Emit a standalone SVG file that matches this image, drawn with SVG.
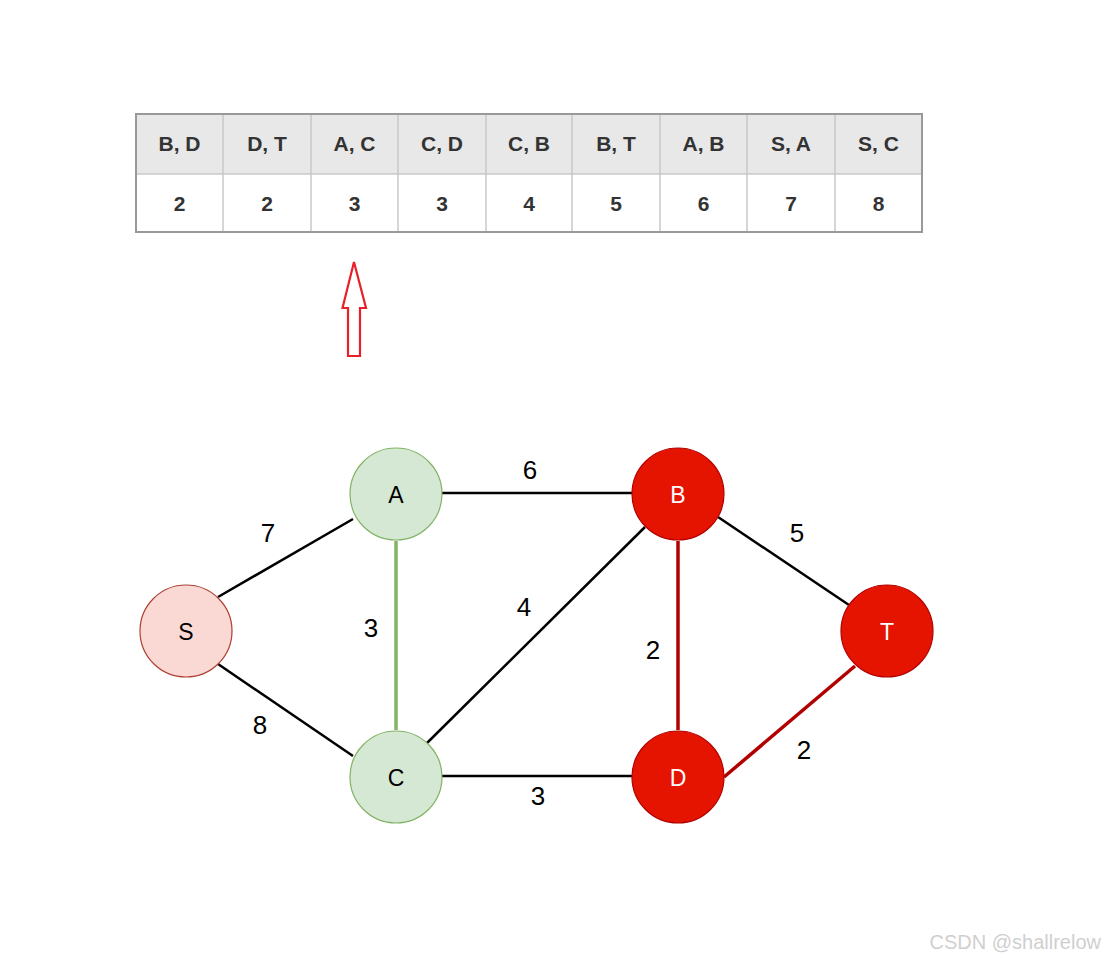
<svg xmlns="http://www.w3.org/2000/svg" width="1105" height="962" viewBox="0 0 1105 962">
<style>
.th{font-family:"Liberation Sans",Arial,sans-serif;font-size:21px;font-weight:bold;fill:#333;text-anchor:middle}
.cell{stroke:#c8c8c8;stroke-width:1.5}
.nl{font-family:"Liberation Sans",Arial,sans-serif;font-size:23px;text-anchor:middle;dominant-baseline:central}
.el{font-family:"Liberation Sans",Arial,sans-serif;font-size:26px;fill:#000;text-anchor:middle;dominant-baseline:central}
.e{stroke:#000;stroke-width:2.5;fill:none}
</style>
<rect width="1105" height="962" fill="#fff"/>
<g id="table">
<rect x="136" y="114" width="786" height="60" fill="#e8e8e8"/>
<rect x="136" y="174" width="786" height="58" fill="#fff"/>
<g class="cell">
<line x1="136" y1="174" x2="922" y2="174"/>
<line x1="223" y1="114" x2="223" y2="232"/>
<line x1="311" y1="114" x2="311" y2="232"/>
<line x1="398" y1="114" x2="398" y2="232"/>
<line x1="486" y1="114" x2="486" y2="232"/>
<line x1="572" y1="114" x2="572" y2="232"/>
<line x1="660" y1="114" x2="660" y2="232"/>
<line x1="747" y1="114" x2="747" y2="232"/>
<line x1="835" y1="114" x2="835" y2="232"/>
</g>
<rect x="136" y="114" width="786" height="118" fill="none" stroke="#999" stroke-width="2"/>
<text class="th" x="179.5" y="151">B, D</text>
<text class="th" x="267" y="151">D, T</text>
<text class="th" x="354.5" y="151">A, C</text>
<text class="th" x="442" y="151">C, D</text>
<text class="th" x="529" y="151">C, B</text>
<text class="th" x="616" y="151">B, T</text>
<text class="th" x="703.5" y="151">A, B</text>
<text class="th" x="791" y="151">S, A</text>
<text class="th" x="878.5" y="151">S, C</text>
<text class="th" x="179.5" y="211">2</text>
<text class="th" x="267" y="211">2</text>
<text class="th" x="354.5" y="211">3</text>
<text class="th" x="442" y="211">3</text>
<text class="th" x="529" y="211">4</text>
<text class="th" x="616" y="211">5</text>
<text class="th" x="703.5" y="211">6</text>
<text class="th" x="791" y="211">7</text>
<text class="th" x="878.5" y="211">8</text>
</g>
<g id="pointer">
<polygon points="354,262 366,308 360,308 360,356 348,356 348,308 342.5,308" fill="#fff" stroke="#e8202a" stroke-width="2.2" stroke-linejoin="miter"/>
</g>
<g id="connectors">
<line class="e" x1="218" y1="597" x2="353" y2="519"/>
<line class="e" x1="218" y1="664" x2="353" y2="756"/>
<line class="e" x1="442" y1="493" x2="632" y2="493"/>
<line class="e" x1="442" y1="776" x2="632" y2="776"/>
<line class="e" x1="427" y1="743" x2="645" y2="527"/>
<line class="e" x1="718" y1="517" x2="849" y2="605"/>
<line x1="396" y1="541" x2="396" y2="730" stroke="#82b366" stroke-width="3.5"/>
<line x1="678" y1="541" x2="678" y2="730" stroke="#b20000" stroke-width="3.5"/>
<line x1="724" y1="777" x2="855" y2="666" stroke="#b20000" stroke-width="3.5"/>
<text class="el" x="268" y="533">7</text>
<text class="el" x="530" y="470">6</text>
<text class="el" x="797" y="533">5</text>
<text class="el" x="524" y="607">4</text>
<text class="el" x="371" y="628">3</text>
<text class="el" x="653" y="650">2</text>
<text class="el" x="260" y="725">8</text>
<text class="el" x="538" y="796">3</text>
<text class="el" x="804" y="750">2</text>
</g>
<g id="node-S"><circle cx="186" cy="631" r="46" fill="#fad9d5" stroke="#ae4132" stroke-width="1.2"/><text class="nl" x="186" y="632" fill="#000">S</text></g>
<g id="node-A"><circle cx="396" cy="494" r="46" fill="#d5e8d4" stroke="#82b366" stroke-width="1.2"/><text class="nl" x="396" y="495" fill="#000">A</text></g>
<g id="node-C"><circle cx="396" cy="777" r="46" fill="#d5e8d4" stroke="#82b366" stroke-width="1.2"/><text class="nl" x="396" y="778" fill="#000">C</text></g>
<g id="node-B"><circle cx="678" cy="494" r="46" fill="#e51400" stroke="#b20000" stroke-width="1.2"/><text class="nl" x="678" y="495" fill="#fff">B</text></g>
<g id="node-D"><circle cx="678" cy="777" r="46" fill="#e51400" stroke="#b20000" stroke-width="1.2"/><text class="nl" x="678" y="778" fill="#fff">D</text></g>
<g id="node-T"><circle cx="887" cy="631" r="46" fill="#e51400" stroke="#b20000" stroke-width="1.2"/><text class="nl" x="887" y="632" fill="#fff">T</text></g>
<text x="1101" y="949" font-family="Liberation Sans,Arial,sans-serif" font-size="20" fill="#cfcfcf" text-anchor="end">CSDN @shallrelow</text>
</svg>
